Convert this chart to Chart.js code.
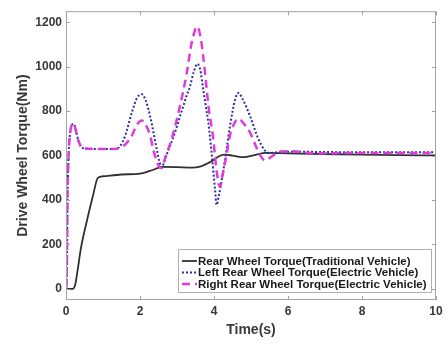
<!DOCTYPE html>
<html>
<head>
<meta charset="utf-8">
<script src="https://cdn.jsdelivr.net/npm/chart.js@4/dist/chart.umd.min.js"></script>
<style>
  html, body { margin: 0; padding: 0; background: #ffffff; }
  #wrap { width: 448px; height: 345px; }
</style>
</head>
<body>
<div id="wrap"><canvas id="c" width="448" height="345"></canvas></div>
<script>
// Drive wheel torque over time
const seriesLabels = [
  'Rear Wheel Torque(Traditional Vehicle)',
  'Left Rear Wheel Torque(Electric Vehicle)',
  'Right Rear Wheel Torque(Electric Vehicle)'
];

const tradTime   = [0, 0.18, 0.25, 0.32, 0.4, 0.57, 0.73, 0.86, 1.0, 1.5, 2.0, 2.27, 2.63, 3.0, 3.4, 3.62, 3.94, 4.15, 4.3, 4.5, 4.8, 5.1, 5.4, 6, 7, 8, 9, 10];
const tradTorque = [0, 0, 20, 90, 180, 310, 420, 500, 507, 515, 519, 531, 549, 548, 546, 550, 575, 598, 604, 600, 593, 602, 612, 610, 607, 604, 602, 601];

const leftTime   = [0, 0.02, 0.04, 0.07, 0.11, 0.16, 0.21, 0.27, 0.35, 0.45, 0.8, 1.1, 1.3, 1.45, 1.6, 1.78, 1.92, 2.05, 2.15, 2.27,
                    2.37, 2.45, 2.53, 2.59, 2.65, 2.72, 2.85, 2.95, 3.05, 3.17, 3.26, 3.35, 3.45, 3.55, 3.63, 3.71, 3.78, 3.85, 3.94, 4.03,
                    4.07, 4.12, 4.25, 4.35, 4.43, 4.57, 4.66, 4.78, 4.97, 5.19, 5.38, 5.5, 5.8, 6.2, 7, 8, 9, 10];
const leftTorque = [0, 50, 400, 600, 700, 738, 743, 710, 660, 634, 630, 630, 630, 640, 690, 794, 860, 876, 850, 780,
                    700, 630, 570, 546, 570, 604, 660, 707, 760, 823, 870, 911, 975, 1013, 985, 897, 820, 745, 604, 444,
                    378, 410, 531, 640, 730, 853, 882, 852, 780, 679, 622, 612, 616, 618, 616, 615, 615, 615];

const rightTime   = [0, 0.02, 0.04, 0.07, 0.11, 0.16, 0.21, 0.27, 0.35, 0.45, 0.8, 1.1, 1.3, 1.45, 1.6, 1.78, 1.92, 2.05, 2.15, 2.27,
                     2.37, 2.45, 2.52, 2.59, 2.68, 2.86, 3.08, 3.26, 3.4, 3.55, 3.65, 3.76, 3.85, 3.98, 4.07, 4.16, 4.24, 4.34, 4.43, 4.55,
                     4.66, 4.8, 4.97, 5.1, 5.24, 5.38, 5.55, 5.78, 6.1, 6.5, 7, 8, 9, 10];
const rightTorque = [0, 50, 400, 600, 700, 738, 743, 710, 660, 634, 630, 630, 630, 635, 650, 690, 740, 758, 740, 692,
                     620, 575, 550, 545, 590, 677, 823, 969, 1110, 1181, 1120, 969, 823, 677, 531, 460, 520, 604, 690, 745,
                     766, 745, 705, 655, 604, 578, 595, 618, 620, 613, 611, 612, 612, 612];

const xTicks = [0, 2, 4, 6, 8, 10];
const yTicks = [0, 200, 400, 600, 800, 1000, 1200];

const toPoints = (ts, vs) => ts.map((t, i) => ({ x: t, y: vs[i] }));

const axisGray = '#a3a3a3';
const labelColor = '#383838';
const fontFamily = '"Liberation Sans", Arial, sans-serif';

// Box around the plot area with inward tick marks on all four sides
const axesFrame = {
  id: 'axesFrame',
  afterDatasetsDraw(chart) {
    const { ctx, chartArea: a, scales: { x, y } } = chart;
    ctx.save();
    ctx.strokeStyle = axisGray;
    ctx.lineWidth = 1;
    ctx.strokeRect(a.left + 0.5, a.top + 0.5, a.right - a.left - 1, a.bottom - a.top - 1);
    const tl = 4;
    ctx.beginPath();
    xTicks.forEach(v => {
      const px = Math.round(x.getPixelForValue(v)) + 0.5;
      ctx.moveTo(px, a.bottom); ctx.lineTo(px, a.bottom - tl);
      ctx.moveTo(px, a.top); ctx.lineTo(px, a.top + tl);
    });
    yTicks.forEach(v => {
      const py = Math.round(y.getPixelForValue(v)) + 0.5;
      ctx.moveTo(a.left, py); ctx.lineTo(a.left + tl, py);
      ctx.moveTo(a.right, py); ctx.lineTo(a.right - tl, py);
    });
    ctx.stroke();
    ctx.restore();
  }
};

// Legend box inside the lower-right corner of the plot area
const insideLegend = {
  id: 'insideLegend',
  afterDraw(chart) {
    const { ctx, chartArea: a } = chart;
    const w = 254, h = 44;
    const right = a.right - 4, bottom = a.bottom - 7;
    const left = right - w, top = bottom - h;
    ctx.save();
    ctx.fillStyle = '#ffffff';
    ctx.fillRect(left, top, w, h);
    ctx.strokeStyle = '#b0b0b0';
    ctx.lineWidth = 1;
    ctx.strokeRect(left + 0.5, top + 0.5, w - 1, h - 1);
    ctx.font = 'bold 11.5px ' + fontFamily;
    ctx.textBaseline = 'middle';
    ctx.textAlign = 'left';
    chart.data.datasets.forEach((ds, i) => {
      const cy = top + 12 + i * 11.5;
      ctx.beginPath();
      ctx.strokeStyle = ds.borderColor;
      ctx.lineWidth = ds.borderWidth;
      ctx.setLineDash(ds.borderDash || []);
      ctx.moveTo(left + 4, cy);
      ctx.lineTo(left + 19, cy);
      ctx.stroke();
      ctx.setLineDash([]);
      ctx.fillStyle = '#1a1a1a';
      ctx.fillText(ds.label, left + 20, cy + 0.5);
    });
    ctx.restore();
  }
};

new Chart(document.getElementById('c'), {
  type: 'line',
  data: {
    datasets: [
      {
        label: seriesLabels[0],
        data: toPoints(tradTime, tradTorque),
        borderColor: '#303030',
        borderWidth: 1.8,
        borderDash: [],
        order: 2
      },
      {
        label: seriesLabels[1],
        data: toPoints(leftTime, leftTorque),
        borderColor: '#2e2e9c',
        borderWidth: 2,
        borderDash: [2, 2],
        order: 1
      },
      {
        label: seriesLabels[2],
        data: toPoints(rightTime, rightTorque),
        borderColor: '#dd3cdd',
        borderWidth: 2.5,
        borderDash: [8, 5],
        order: 0
      }
    ]
  },
  options: {
    responsive: false,
    animation: false,
    devicePixelRatio: 1,
    elements: {
      point: { radius: 0, hoverRadius: 0 },
      line: { cubicInterpolationMode: 'monotone', fill: false }
    },
    layout: { padding: { top: 3, right: 12, bottom: 6, left: 0 } },
    plugins: {
      legend: { display: false },
      tooltip: { enabled: false },
      title: { display: false }
    },
    scales: {
      x: {
        type: 'linear',
        min: 0,
        max: 10,
        afterBuildTicks: s => { s.ticks = xTicks.map(v => ({ value: v })); },
        afterFit: s => { s.height = 39; },
        grid: { display: false, drawTicks: false },
        border: { display: false },
        ticks: {
          color: labelColor,
          padding: 4,
          maxRotation: 0,
          callback: v => String(v),
          font: { family: fontFamily, size: 12, weight: 'bold' }
        },
        title: {
          display: true,
          text: 'Time(s)',
          color: labelColor,
          padding: { top: 0, bottom: 0 },
          font: { family: fontFamily, size: 14, weight: 'bold' }
        }
      },
      y: {
        type: 'linear',
        min: -50,
        max: 1250,
        afterBuildTicks: s => { s.ticks = yTicks.map(v => ({ value: v })); },
        afterFit: s => { s.width = 66; },
        grid: { display: false, drawTicks: false },
        border: { display: false },
        ticks: {
          color: labelColor,
          padding: 4,
          callback: v => String(v),
          font: { family: fontFamily, size: 12, weight: 'bold' }
        },
        title: {
          display: true,
          text: 'Drive Wheel Torque(Nm)',
          color: labelColor,
          padding: { top: 15, bottom: 0 },
          font: { family: fontFamily, size: 14, weight: 'bold' }
        }
      }
    }
  },
  plugins: [axesFrame, insideLegend]
});
</script>
</body>
</html>
